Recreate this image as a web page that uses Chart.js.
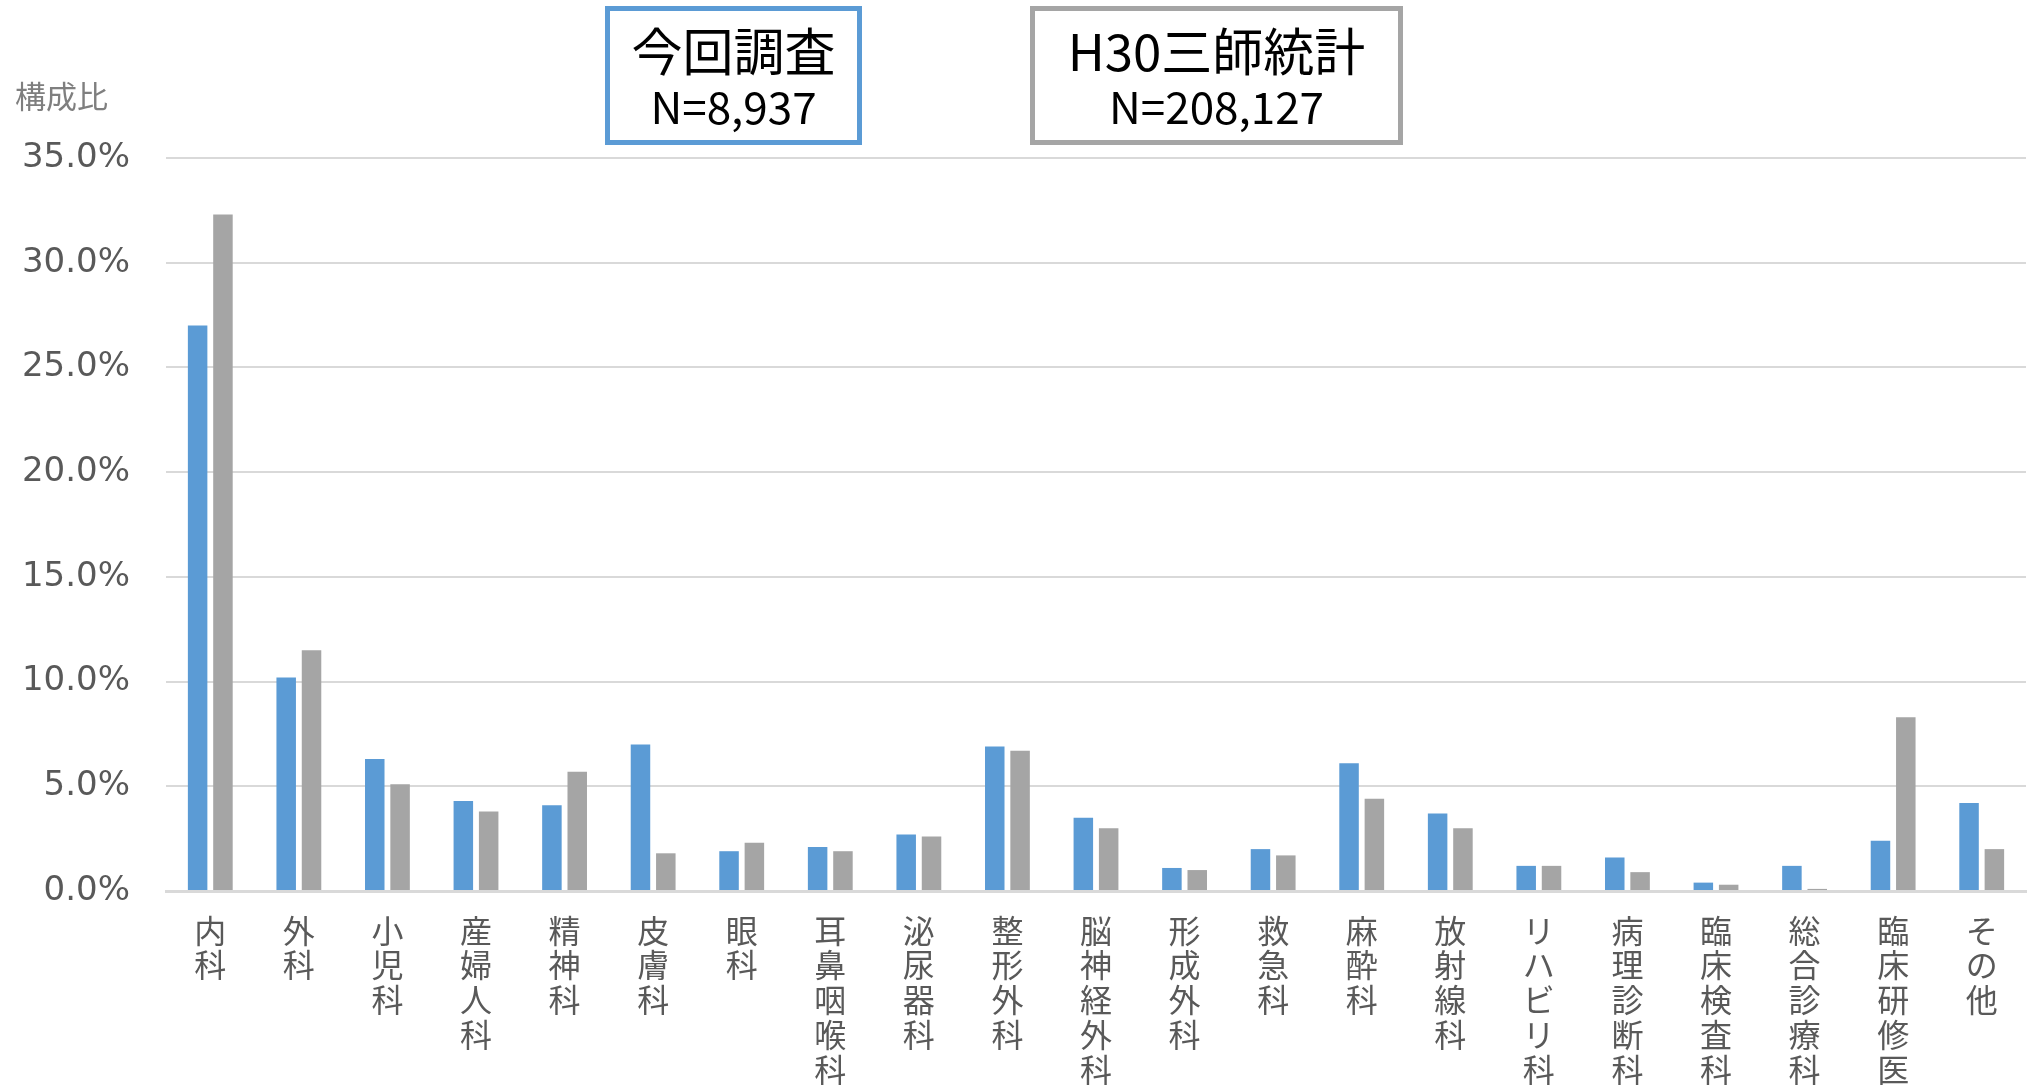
<!DOCTYPE html>
<html>
<head>
<meta charset="utf-8">
<script src="https://cdn.jsdelivr.net/npm/chart.js@4/dist/chart.umd.min.js"></script>
<style>
    html, body { margin: 0; padding: 0; background: #fff; }
    #wrap { width: 2033px; height: 1086px; position: relative; }
</style>
</head>
<body>
<div id="wrap"><canvas id="deptChart"></canvas></div>
<script>
// categories (診療科)
var departments = ['内科', '外科', '小児科', '産婦人科', '精神科', '皮膚科', '眼科', '耳鼻咽喉科', '泌尿器科',
    '整形外科', '脳神経外科', '形成外科', '救急科', '麻酔科', '放射線科', 'リハビリ科', '病理診断科',
    '臨床検査科', '総合診療科', '臨床研修医', 'その他'];

// 今回調査 N=8,937 (%)
var surveyShare = [27.0, 10.2, 6.3, 4.3, 4.1, 7.0, 1.9, 2.1, 2.7, 6.9, 3.5, 1.1, 2.0, 6.1, 3.7, 1.2, 1.6, 0.4, 1.2, 2.4, 4.2];

// H30三師統計 N=208,127 (%)
var h30Share = [32.3, 11.5, 5.1, 3.8, 5.7, 1.8, 2.3, 1.9, 2.6, 6.7, 3.0, 1.0, 1.7, 4.4, 3.0, 1.2, 0.9, 0.3, 0.1, 8.3, 2.0];

// y axis ticks
var yTicks = [0, 5, 10, 15, 20, 25, 30, 35];

var boxes = [
    { title: '今回調査', sub: 'N=8,937', color: '#5B9BD5', x: 605, w: 257 },
    { title: 'H30三師統計', sub: 'N=208,127', color: '#A5A5A5', x: 1030, w: 373 }
];

// vertical labels: one character per line
var labels = departments.map(function (d) { return d.split(''); });

var annotations = {
    id: 'annotations',
    afterDraw: function (chart) {
        var c = chart.ctx;
        c.save();
        // axis caption
        c.fillStyle = '#7F7F7F';
        c.font = '31px "Noto Sans CJK JP"';
        c.textAlign = 'left';
        c.textBaseline = 'middle';
        c.fillText('構成比', 15, 96);

        // legend boxes
        boxes.forEach(function (b) {
            c.lineWidth = 5;
            c.strokeStyle = b.color;
            c.strokeRect(b.x + 2.5, 8.5, b.w - 5, 134);
            c.fillStyle = '#000';
            c.textAlign = 'center';
            c.font = '51px "Noto Sans CJK JP"';
            c.fillText(b.title, b.x + b.w / 2, 52);
            c.font = '44px "Noto Sans CJK JP"';
            c.fillText(b.sub, b.x + b.w / 2, 107);
        });
        c.restore();
    }
};

var ctx = document.getElementById('deptChart').getContext('2d');
var deptChart = new Chart(ctx, {
    type: 'bar',
    data: {
        labels: labels,
        datasets: [{
            label: '今回調査',
            data: surveyShare,
            backgroundColor: '#5B9BD5',
            categoryPercentage: 0.572,
            barPercentage: 0.77
        }, {
            label: 'H30三師統計',
            data: h30Share,
            backgroundColor: '#A5A5A5',
            categoryPercentage: 0.572,
            barPercentage: 0.77
        }]
    },
    options: {
        responsive: true,
        maintainAspectRatio: false,
        animation: false,
        devicePixelRatio: 1,
        layout: {
            padding: { top: 158, right: 7, bottom: 0, left: 0 }
        },
        plugins: {
            legend: { display: false },
            tooltip: { enabled: false }
        },
        scales: {
            x: {
                grid: { display: false, drawTicks: false },
                border: { color: '#D9D9D9', width: 3 },
                ticks: {
                    autoSkip: false,
                    maxRotation: 0,
                    minRotation: 0,
                    padding: 22,
                    color: '#595959',
                    font: { family: '"Noto Sans CJK JP"', size: 32, lineHeight: 1.09 }
                },
                afterFit: function (scale) { scale.height = 195; }
            },
            y: {
                min: 0,
                max: 35,
                afterBuildTicks: function (scale) {
                    scale.ticks = yTicks.map(function (v) { return { value: v }; });
                },
                grid: { color: '#D9D9D9', lineWidth: 2, drawTicks: false },
                border: { display: false },
                ticks: {
                    padding: 36,
                    color: '#595959',
                    font: { family: '"DejaVu Sans"', size: 34 },
                    callback: function (v) { return v.toFixed(1) + '%'; }
                },
                afterFit: function (scale) { scale.width = 166; }
            }
        }
    },
    plugins: [annotations]
});
</script>
</body>
</html>
